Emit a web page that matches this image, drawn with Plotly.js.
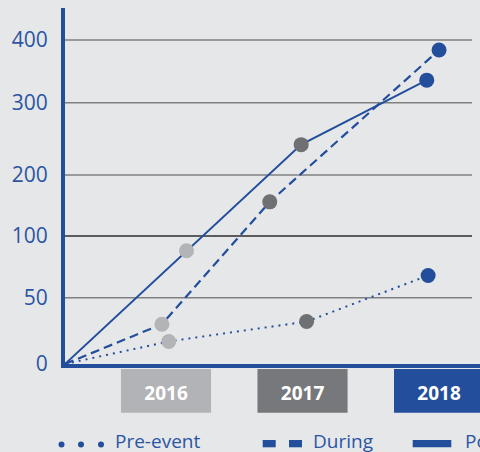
<!DOCTYPE html>
<html><head><meta charset="utf-8">
<script src="https://cdn.plot.ly/plotly-3.0.1.min.js"></script>
<style>html,body{margin:0;padding:0;background:#e6e7e9;overflow:hidden}#chart{width:480px;height:452px;}</style>
</head><body><div id="chart"></div>
<script>
// ---- data ----
const years = [2016, 2017, 2018];
const yearLabels = ['2016', '2017', '2018'];
const seriesNames = ['Pre-event', 'During', 'Post-event'];
const startX = 2015.26;
const startY = 0;
const preX = [2016.02, 2017.03, 2017.92];
const preY = [17, 32, 68];
const duringX = [2015.97, 2016.76, 2018.0];
const duringY = [30, 156, 384];
const postX = [2016.15, 2016.99, 2017.91];
const postY = [88, 242, 336];
const yTickValues = [0, 50, 100, 200, 300, 400];
const yTickLabels = ['0', '50', '100', '200', '300', '400'];

// ---- layout / styling ----
const W = 480, H = 452, L = 65, R = 0, T = 8, B = 88;
const plotW = W - L - R, plotH = H - T - B;
// the value axis is drawn with uneven spacing: screen position of each tick (px above the plot bottom)
const yTickPos = [0, 66.3, 128, 189, 261.3, 324];
function toPos(v) {
  for (let i = 1; i < yTickValues.length; i++) {
    if (v <= yTickValues[i]) {
      const a = yTickValues[i - 1], b = yTickValues[i];
      return yTickPos[i - 1] + (v - a) / (b - a) * (yTickPos[i] - yTickPos[i - 1]);
    }
  }
  return yTickPos[yTickPos.length - 1];
}
const px2x = p => (p - L) / plotW;
const px2y = p => (H - B - p) / plotH;

const BG = '#e6e7e9';
const BLUE = '#234e9c';
const TXTBLUE = '#2b55a3';
const boxColors = ['#b2b3b6', '#77787b', '#234e9c'];
const dotColors = ['#b3b4b7', '#6f7073', '#234e9c'];
const FONT = 'Open Sans, Noto Sans, sans-serif';

const series = [
  {name: seriesNames[0], x: preX, y: preY, dash: '2px,5px', width: 2},
  {name: seriesNames[1], x: duringX, y: duringY, dash: '9px,5px', width: 2.2},
  {name: seriesNames[2], x: postX, y: postY, dash: 'solid', width: 2}
];

const traces = [];
series.forEach(s => {
  traces.push({
    type: 'scatter', mode: 'lines', name: s.name, showlegend: false,
    x: [startX].concat(s.x), y: [startY].concat(s.y).map(toPos),
    line: {color: BLUE, width: s.width, dash: s.dash}, hoverinfo: 'skip'
  });
});
series.forEach(s => {
  traces.push({
    type: 'scatter', mode: 'markers', name: s.name, showlegend: false,
    x: s.x, y: s.y.map(toPos),
    marker: {size: 15, color: dotColors, line: {width: 0}}, hoverinfo: 'skip'
  });
});

const shapes = [];
// gridlines
yTickPos.forEach((p, i) => {
  if (i === 0) return;
  shapes.push({type: 'line', layer: 'below', xref: 'paper', yref: 'y',
    x0: 0, x1: px2x(472), y0: p, y1: p,
    line: {color: yTickValues[i] === 100 ? '#2e2e2e' : '#808080', width: 1.5}});
});
// category boxes
years.forEach((yr, i) => {
  shapes.push({type: 'rect', layer: 'below', xref: 'x', yref: 'paper',
    x0: yr - 0.33, x1: yr + 0.33, y0: px2y(412.7), y1: px2y(369),
    fillcolor: boxColors[i], line: {width: 0}});
});
// legend symbols
[61.5, 81, 101].forEach(cx => {
  shapes.push({type: 'circle', xref: 'paper', yref: 'paper',
    x0: px2x(cx - 3), x1: px2x(cx + 3), y0: px2y(447.5), y1: px2y(441.5),
    fillcolor: BLUE, line: {width: 0}});
});
[[262.7, 275.7], [289, 302], [412.7, 451.3]].forEach(([a, b]) => {
  shapes.push({type: 'rect', xref: 'paper', yref: 'paper',
    x0: px2x(a), x1: px2x(b), y0: px2y(447.3), y1: px2y(440),
    fillcolor: BLUE, line: {width: 0}});
});

const annotations = [[113.5, seriesNames[0]], [311.5, seriesNames[1]], [464, seriesNames[2]]].map(([x, t]) => ({
  xref: 'paper', yref: 'paper', x: px2x(x), y: px2y(440.5), xanchor: 'left', yanchor: 'middle',
  text: t, showarrow: false, font: {family: FONT, size: 19, color: TXTBLUE}, borderpad: 0
}));

const layout = {
  width: W, height: H,
  margin: {l: L, r: R, t: T, b: B, pad: 0},
  paper_bgcolor: BG, plot_bgcolor: BG,
  showlegend: false,
  xaxis: {
    range: [2015.26, 2018.30], tickvals: years, ticktext: yearLabels,
    tickfont: {family: FONT, size: 19, color: '#ffffff', weight: 'bold'},
    showline: true, linecolor: BLUE, linewidth: 4, ticks: '', showgrid: false, zeroline: false,
    ticklabelstandoff: 9, fixedrange: true
  },
  yaxis: {
    range: [0, plotH], tickvals: yTickPos, ticktext: yTickLabels,
    tickfont: {family: FONT, size: 21, color: TXTBLUE},
    showline: true, linecolor: BLUE, linewidth: 4, ticks: '', showgrid: false, zeroline: false,
    ticklabelstandoff: 9, ticklabelshift: -2.5, fixedrange: true
  },
  shapes: shapes,
  annotations: annotations,
  hovermode: false
};

Plotly.newPlot('chart', traces, layout, {displayModeBar: false, staticPlot: true});
</script>
</body></html>
